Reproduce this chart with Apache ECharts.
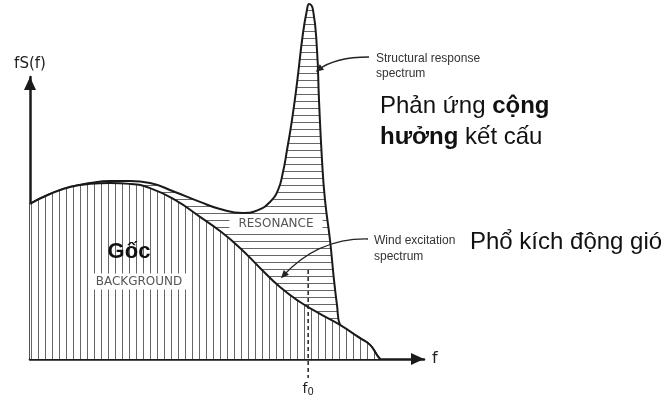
<!DOCTYPE html>
<html><head><meta charset="utf-8">
<script src="https://cdn.jsdelivr.net/npm/echarts@6/dist/echarts.min.js"></script>
<style>html,body{margin:0;padding:0;background:#fff}#c{width:663px;height:400px}</style>
</head><body><div id="c"></div>
<script>
// Wind excitation (background) spectrum
const bgX = [0, 5.08, 10.15, 15.23, 20.30, 25.38, 30.46, 36.80, 43.15, 48.22, 53.30, 58.38, 63.45, 68.53, 73.60, 78.68, 83.76, 86.29, 88.07, 88.83];
const bgY = [55.0, 58.5, 61.0, 62.1, 62.4, 62.1, 60.6, 56.4, 50.4, 45.4, 39.4, 32.3, 25.5, 20.2, 16.0, 12.1, 7.4, 5.0, 1.4, 0];
// Structural response spectrum (background + resonance)
const totX = [0, 5.08, 10.15, 15.23, 20.30, 25.38, 30.46, 36.80, 43.15, 48.22, 54.06, 57.87, 60.91, 62.94, 64.21, 65.23, 66.50, 67.77, 69.29, 70.30, 70.81, 71.83, 72.84, 73.35, 74.11, 74.87, 76.14, 77.16, 77.92, 78.68, 83.76, 86.29, 88.07, 88.83];
const totY = [55.0, 58.5, 61.0, 62.4, 63.1, 63.1, 62.4, 59.2, 55.7, 53.2, 51.8, 52.8, 55.7, 59.9, 66.3, 74.1, 84.8, 97.9, 115.6, 123.8, 125.9, 123.8, 109.6, 91.8, 70.6, 56.4, 42.2, 28.0, 19.1, 12.1, 7.4, 5.0, 1.4, 0];
// Natural frequency marker
const f0X = [70.6, 70.6];
const f0Y = [31.6, -6.7];

const zip = (xs, ys) => xs.map((x, i) => [x, ys[i]]);

function hatch(vertical) {
  const c = document.createElement('canvas');
  c.width = 7; c.height = 7;
  const g = c.getContext('2d');
  g.fillStyle = '#fff'; g.fillRect(0, 0, 7, 7);
  g.fillStyle = '#666';
  if (vertical) g.fillRect(3, 0, 1, 7); else g.fillRect(0, 3, 7, 1);
  return c;
}

const chart = echarts.init(document.getElementById('c'), null, {renderer: 'canvas'});
const axisLineStyle = {color: '#1a1a1a', width: 2.5};
const option = {
  animation: false,
  backgroundColor: '#fff',
  grid: {left: 30, right: 239, top: 77, bottom: 41, outerBoundsMode: 'none', containLabel: false},
  xAxis: {
    type: 'value', min: 0, max: 100,
    name: 'f', nameLocation: 'end', nameGap: 8,
    nameTextStyle: {fontFamily: 'DejaVu Sans', fontSize: 16, color: '#222', align: 'left', verticalAlign: 'middle'},
    axisLine: {show: true, symbol: ['none', 'triangle'], symbolSize: [12, 13], symbolOffset: [0, -6.5], lineStyle: axisLineStyle},
    axisTick: {show: false}, axisLabel: {show: false}, splitLine: {show: false}
  },
  yAxis: {
    type: 'value', min: 0, max: 100,
    name: 'fS(f)', nameLocation: 'end', nameGap: 13,
    nameTextStyle: {fontFamily: 'DejaVu Sans', fontSize: 15, color: '#222', align: 'center', verticalAlign: 'middle'},
    axisLine: {show: true, symbol: ['none', 'triangle'], symbolSize: [12, 13], symbolOffset: [0, -6.5], lineStyle: axisLineStyle},
    axisTick: {show: false}, axisLabel: {show: false}, splitLine: {show: false}
  },
  series: [
    {
      type: 'line', name: 'Structural response spectrum', data: zip(totX, totY),
      smooth: 0.5, symbol: 'none', clip: false, z: 2,
      lineStyle: {color: '#1a1a1a', width: 2},
      areaStyle: {color: {image: hatch(false), repeat: 'repeat'}, opacity: 1}
    },
    {
      type: 'line', name: 'Wind excitation spectrum', data: zip(bgX, bgY),
      smooth: 0.5, symbol: 'none', clip: false, z: 3,
      lineStyle: {color: '#1a1a1a', width: 2},
      areaStyle: {color: {image: hatch(true), repeat: 'repeat'}, opacity: 1}
    },
    {
      type: 'line', name: 'f0', data: zip(f0X, f0Y), symbol: 'none', clip: false, z: 4,
      lineStyle: {color: '#222', width: 1.5, type: [4, 3]},
      markPoint: {
        symbol: 'circle', symbolSize: 0, silent: true,
        data: [{coord: [f0X[0], 0], label: {
          show: true, offset: [0, 30], formatter: '{f|f}{s|0}',
          rich: {f: {fontFamily: 'DejaVu Sans', fontSize: 14, color: '#222'},
                 s: {fontFamily: 'DejaVu Sans', fontSize: 10, color: '#222', verticalAlign: 'bottom', padding: [6, 0, 0, 0]}}
        }}]
      }
    }
  ]
};
chart.setOption(option);

function arrow(x1, y1, cx, cy, x2, y2) {
  const dx = x2 - cx, dy = y2 - cy, L = Math.hypot(dx, dy);
  const ux = dx / L, uy = dy / L, len = 8, hw = 3.5;
  const tipX = x2 + ux * 3, tipY = y2 + uy * 3;
  const bx = tipX - ux * len, by = tipY - uy * len;
  return [
    {type: 'bezierCurve', shape: {x1, y1, cpx1: cx, cpy1: cy, x2, y2}, style: {stroke: '#222', lineWidth: 1.3, fill: 'none'}, z: 10},
    {type: 'polygon', shape: {points: [[tipX, tipY], [bx - uy * hw, by + ux * hw], [bx + uy * hw, by - ux * hw]]}, style: {fill: '#222'}, z: 10}
  ];
}
function txt(x, y, text, font, extra) {
  return Object.assign({type: 'text', x, y, z: 20, style: Object.assign({text, font, fill: '#111', textAlign: 'left', textVerticalAlign: 'middle'}, extra || {})});
}
const vn = {n: {fontFamily: 'Liberation Sans', fontSize: 24, fill: '#111'}, b: {fontFamily: 'Liberation Sans', fontSize: 24, fontWeight: 'bold', fill: '#111'}};
chart.setOption({
  graphic: [].concat(
    arrow(369, 57, 335, 57, 318, 70),
    arrow(368, 239, 318, 238, 283, 276),
    [
      txt(376, 59, 'Structural response', '12px "Liberation Sans"', {fill: '#333'}),
      txt(376, 74, 'spectrum', '12px "Liberation Sans"', {fill: '#333'}),
      txt(374, 241, 'Wind excitation', '12px "Liberation Sans"', {fill: '#333'}),
      txt(374, 257, 'spectrum', '12px "Liberation Sans"', {fill: '#333'}),
      {type: 'text', x: 380, y: 106, z: 20, style: {text: '{n|Phản ứng }{b|cộng}', rich: vn, textAlign: 'left', textVerticalAlign: 'middle'}},
      {type: 'text', x: 380, y: 137, z: 20, style: {text: '{b|hưởng}{n| kết cấu}', rich: vn, textAlign: 'left', textVerticalAlign: 'middle'}},
      txt(470, 242, 'Phổ kích động gió', '24px "Liberation Sans"'),
      txt(129, 252, 'Gốc', 'bold 22px "Liberation Sans"', {textAlign: 'center'}),
      txt(139, 281.5, 'BACKGROUND', '12px "DejaVu Sans"', {textAlign: 'center', fill: '#555', backgroundColor: '#fff', padding: [2, 4]}),
      txt(276, 224, 'RESONANCE', '12px "DejaVu Sans"', {textAlign: 'center', fill: '#555', backgroundColor: '#fff', padding: [2, 9]})
    ]
  )
});
</script></body></html>
